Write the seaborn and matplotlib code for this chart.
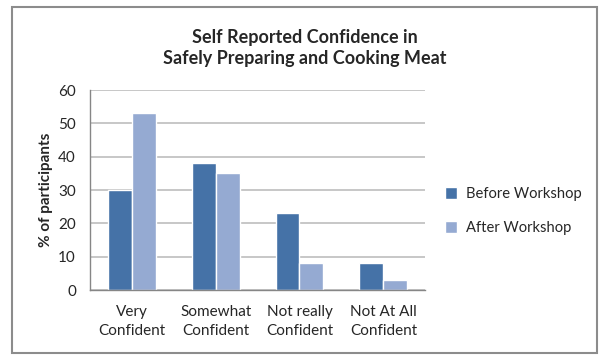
import pandas as pd
import matplotlib
matplotlib.use("Agg")
import matplotlib.pyplot as plt
import seaborn as sns
from matplotlib.patches import Rectangle

# data
categories = ["Very\nConfident", "Somewhat\nConfident", "Not really\nConfident", "Not At All\nConfident"]
before = [30, 38, 23, 8]
after = [53, 35, 8, 3]
series = ["Before Workshop", "After Workshop"]
colors = ["#4572A7", "#95AAD2"]

df = pd.DataFrame({
    "category": categories * 2,
    "value": before + after,
    "group": [series[0]] * 4 + [series[1]] * 4,
})

sns.set_style("white")
plt.rcParams["font.family"] = ["Lato", "DejaVu Sans"]

fig = plt.figure(figsize=(6.11, 3.59), dpi=100)
ax = fig.add_axes([0.147, 0.192, 0.549, 0.557])

sns.barplot(data=df, x="category", y="value", hue="group", palette=colors,
            width=0.57, ax=ax, legend=True, saturation=1)

ax.set_ylim(0, 60)
ax.set_yticks(range(0, 61, 10))
ax.yaxis.grid(True, color="#BDBDBD", linewidth=1.2)
ax.set_axisbelow(True)
for s in ["top", "right"]:
    ax.spines[s].set_visible(False)
for s in ["left", "bottom"]:
    ax.spines[s].set_color("#868686")
    ax.spines[s].set_linewidth(1)
ax.tick_params(axis="y", length=4, color="#868686", labelsize=11, pad=6)
ax.tick_params(axis="x", length=0, labelsize=11, pad=11)
for lbl in ax.get_xticklabels():
    lbl.set_linespacing(1.45)
ax.set_xlabel("")
ax.set_ylabel("% of participants", fontsize=11, fontweight="bold", labelpad=4)

ax.legend(loc="center left", bbox_to_anchor=(1.02, 0.395), frameon=False,
          fontsize=10.6, handlelength=0.8, handleheight=0.8, labelspacing=1.35,
          handletextpad=0.6)

fig.text(0.499, 0.866, "Self Reported Confidence in\nSafely Preparing and Cooking Meat",
         ha="center", va="center", fontsize=13, fontweight="bold", linespacing=1.3)

# outer chart border
border = Rectangle((12 / 611, 6 / 359), 585 / 611, 346 / 359,
                   transform=fig.transFigure, fill=False,
                   edgecolor="#8C8C8C", linewidth=1.5)
fig.patches.append(border)

fig.savefig("out.png", dpi=100)
